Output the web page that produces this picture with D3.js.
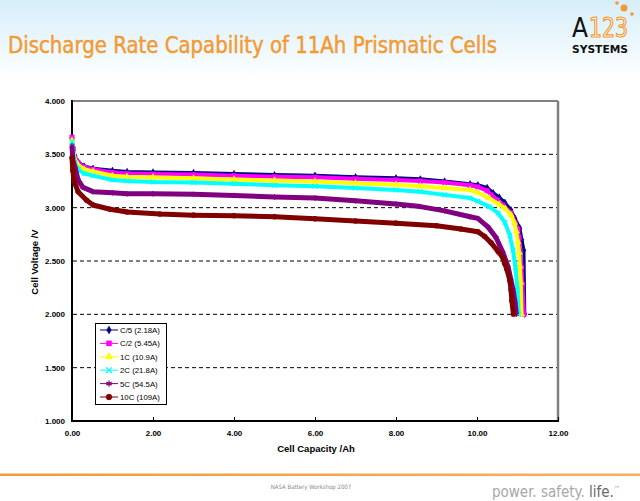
<!DOCTYPE html>
<html><head><meta charset="utf-8">
<script src="https://cdn.jsdelivr.net/npm/d3@7"></script>
<style>body{margin:0;background:#fff;} svg{display:block;}</style>
</head><body>
<svg id="c" width="640" height="501"></svg>
<script>
// ---- data ----
const seriesNames = ["C/5 (2.18A)", "C/2 (5.45A)", "1C (10.9A)", "2C (21.8A)", "5C (54.5A)", "10C (109A)"];
const xTickValues = [0, 2, 4, 6, 8, 10, 12];
const yTickValues = [1.0, 1.5, 2.0, 2.5, 3.0, 3.5, 4.0];
const gridValues = [1.5, 2.0, 2.5, 3.0, 3.5];

const capC5 = [0,0.03,0.07,0.15,0.3,0.52,1.0,1.36,2,3,4,5,6,7,8,8.6,9.2,9.83,10.02,10.25,10.4,10.55,10.69,10.84,10.94,11.06,11.11,11.16,11.18];
const voltC5 = [3.65,3.55,3.48,3.43,3.39,3.37,3.35,3.34,3.335,3.33,3.32,3.31,3.305,3.29,3.28,3.27,3.25,3.225,3.215,3.19,3.14,3.10,3.05,2.98,2.90,2.81,2.70,2.60,2.00];

const capC2 = [0,0.03,0.07,0.15,0.3,0.52,1.0,1.36,2,3,4,5,6,7,8,8.6,9.2,9.83,10.02,10.25,10.35,10.5,10.64,10.84,10.94,11.01,11.04,11.06,11.1,11.12,11.16];
const voltC2 = [3.66,3.55,3.47,3.42,3.38,3.36,3.33,3.32,3.315,3.31,3.30,3.29,3.285,3.27,3.26,3.25,3.235,3.21,3.195,3.16,3.12,3.07,3.025,2.95,2.86,2.80,2.72,2.60,2.44,2.28,2.00];

const cap1C = [0,0.03,0.07,0.15,0.3,0.52,1.0,1.36,2,3,4,5,6,7,8,8.6,9.2,9.83,10.02,10.3,10.55,10.7,10.84,10.92,10.97,11.01,11.04,11.06,11.08,11.1];
const volt1C = [3.63,3.52,3.45,3.40,3.36,3.34,3.30,3.29,3.285,3.275,3.265,3.255,3.245,3.23,3.215,3.20,3.185,3.165,3.14,3.09,3.03,2.99,2.93,2.86,2.78,2.68,2.58,2.45,2.30,2.00];

const cap2C = [0,0.03,0.07,0.15,0.3,0.52,1.0,1.36,2,3,4,5,6,7,8,8.6,9.2,9.83,10.02,10.3,10.52,10.69,10.81,10.89,10.95,11.0,11.03];
const volt2C = [3.62,3.50,3.42,3.36,3.32,3.30,3.26,3.25,3.24,3.235,3.225,3.21,3.20,3.185,3.165,3.15,3.12,3.09,3.06,3.01,2.95,2.86,2.74,2.60,2.44,2.23,2.00];

const cap5C = [0,0.02,0.08,0.15,0.27,0.52,1.0,1.36,2,3,4,5,6,7,8,8.6,9.2,9.83,10.02,10.27,10.47,10.64,10.77,10.84,10.89,10.94,10.97];
const volt5C = [3.58,3.45,3.37,3.26,3.19,3.15,3.14,3.13,3.13,3.125,3.115,3.10,3.09,3.065,3.035,3.01,2.97,2.915,2.90,2.82,2.72,2.58,2.44,2.32,2.23,2.11,2.00];

const cap10C = [0,0.02,0.05,0.15,0.36,0.52,0.94,1.36,2.17,3,4,5,6,7,8,9,9.6,10.02,10.19,10.35,10.52,10.64,10.68,10.74,10.81,10.84,10.86,10.9];
const volt10C = [3.47,3.35,3.25,3.15,3.07,3.025,2.985,2.96,2.94,2.93,2.925,2.915,2.895,2.875,2.855,2.83,2.80,2.775,2.73,2.67,2.59,2.53,2.48,2.42,2.32,2.23,2.13,2.00];

const seriesCaps = [capC5, capC2, cap1C, cap2C, cap5C, cap10C];
const seriesVolts = [voltC5, voltC2, volt1C, volt2C, volt5C, volt10C];

// ---- styles ----
const colors = ["#000080", "#FF00FF", "#FFFF00", "#00FFFF", "#800080", "#800000"];
const symbols = [d3.symbolDiamond, d3.symbolSquare, d3.symbolTriangle, d3.symbolTimes, d3.symbolAsterisk, d3.symbolCircle];
const symSizes = [12, 20, 18, 16, 20, 20];
const bandWidths = [3, 4, 4, 4, 5, 5];
const stroked = [false, false, false, true, true, false];

const svg = d3.select("#c");
const defs = svg.append("defs");
const bg = defs.append("linearGradient").attr("id", "bg").attr("x1", 0).attr("y1", 0).attr("x2", 0).attr("y2", 1);
bg.append("stop").attr("offset", "0%").attr("stop-color", "#d6eef9");
bg.append("stop").attr("offset", "100%").attr("stop-color", "#ffffff");
const og = defs.append("linearGradient").attr("id", "og").attr("x1", 0).attr("y1", 0).attr("x2", 1).attr("y2", 0);
og.append("stop").attr("offset", "0%").attr("stop-color", "#f39a3a");
og.append("stop").attr("offset", "100%").attr("stop-color", "#f7b060");

svg.append("rect").attr("width", 640).attr("height", 501).attr("fill", "#fff");
svg.append("rect").attr("width", 640).attr("height", 80).attr("fill", "url(#bg)");

// title
svg.append("text").attr("x", 8).attr("y", 53)
  .attr("font-family", "'DejaVu Sans Condensed','Liberation Sans Narrow','DejaVu Sans',sans-serif")
  .attr("font-size", 23).attr("fill", "#f39a33").attr("stroke", "#f39a33").attr("stroke-width", 0.45)
  .attr("textLength", 489).attr("lengthAdjust", "spacingAndGlyphs")
  .text("Discharge Rate Capability of 11Ah Prismatic Cells");

// logo
const logo = svg.append("g");
logo.append("text").attr("x", 572).attr("y", 37)
  .attr("font-family", "'DejaVu Sans Condensed','DejaVu Sans',sans-serif").attr("font-size", 26)
  .attr("fill", "#111").text("A");
logo.append("text").attr("x", 589).attr("y", 37)
  .attr("font-family", "'DejaVu Sans Condensed','DejaVu Sans',sans-serif").attr("font-size", 26)
  .attr("fill", "#fff").attr("stroke", "#f39a33").attr("stroke-width", 1.2)
  .attr("textLength", 39).attr("lengthAdjust", "spacingAndGlyphs").text("123");
logo.append("text").attr("x", 572).attr("y", 53)
  .attr("font-family", "'DejaVu Sans Condensed','DejaVu Sans',sans-serif").attr("font-size", 10.5).attr("font-weight", "bold")
  .attr("fill", "#111").attr("textLength", 56).attr("lengthAdjust", "spacingAndGlyphs").text("SYSTEMS");
logo.append("circle").attr("cx", 624).attr("cy", 8).attr("r", 3.5).attr("fill", "#f39a33");
logo.append("circle").attr("cx", 617).attr("cy", 3).attr("r", 1.8).attr("fill", "#f39a33");
logo.append("circle").attr("cx", 632).attr("cy", 14).attr("r", 1.8).attr("fill", "#f39a33");

// footer
svg.append("rect").attr("x", 0).attr("y", 473.5).attr("width", 640).attr("height", 2.5).attr("fill", "url(#og)");
svg.append("text").attr("x", 311).attr("y", 489).attr("text-anchor", "middle")
  .attr("font-family", "'DejaVu Sans Condensed','DejaVu Sans',sans-serif").attr("font-size", 6)
  .attr("fill", "#8a8a8a").text("NASA Battery Workshop 2007");
const ft = svg.append("text").attr("x", 492).attr("y", 497)
  .attr("font-family", "'DejaVu Sans Condensed','DejaVu Sans',sans-serif").attr("font-size", 15)
  .attr("fill", "#a8a8a8");
ft.append("tspan").text("power. safety. ");
ft.append("tspan").attr("fill", "#6a6a6a").text("life.");
ft.append("tspan").attr("font-size", 7).attr("dy", -6).text("™");

// ---- chart ----
const x = d3.scaleLinear().domain([0, 12]).range([72, 558]);
const y = d3.scaleLinear().domain([1, 4]).range([421, 101]);

// grid
svg.append("g").selectAll("line").data(gridValues).join("line")
  .attr("x1", x(0) + 1).attr("x2", x(12) - 1)
  .attr("y1", d => y(d)).attr("y2", d => y(d))
  .attr("stroke", "#000").attr("stroke-width", 1).attr("stroke-dasharray", "4,3");

// frame (top/right gray)
svg.append("line").attr("x1", x(0)).attr("x2", x(12)).attr("y1", y(4)).attr("y2", y(4)).attr("stroke", "#808080").attr("stroke-width", 2);
svg.append("line").attr("x1", x(12)).attr("x2", x(12)).attr("y1", y(4)).attr("y2", y(1)).attr("stroke", "#808080").attr("stroke-width", 2.5);

// axes
const xAxis = d3.axisBottom(x).tickValues(xTickValues).tickFormat(d3.format(".2f")).tickSize(-4).tickPadding(9);
const gx = svg.append("g").attr("transform", `translate(0,${y(1)})`).call(xAxis);
gx.select(".domain").remove();
gx.selectAll(".tick line").attr("stroke", "#000");
gx.selectAll("text").attr("font-family", "'Liberation Sans',Arial,sans-serif").attr("font-size", 8).attr("font-weight", "bold").attr("fill", "#000");

const yAxis = d3.axisLeft(y).tickValues(yTickValues).tickFormat(d3.format(".3f")).tickSize(0).tickPadding(7);
const gy = svg.append("g").attr("transform", `translate(${x(0)},0)`).call(yAxis);
gy.select(".domain").remove();
gy.selectAll("text").attr("font-family", "'Liberation Sans',Arial,sans-serif").attr("font-size", 8).attr("font-weight", "bold").attr("fill", "#000");

svg.append("line").attr("x1", x(0)).attr("x2", x(12) + 1).attr("y1", y(1)).attr("y2", y(1)).attr("stroke", "#000").attr("stroke-width", 2);
svg.append("line").attr("x1", x(0)).attr("x2", x(0)).attr("y1", y(4) - 1).attr("y2", y(1) + 1).attr("stroke", "#000").attr("stroke-width", 2);

// axis titles
svg.append("text").attr("x", 316).attr("y", 452).attr("text-anchor", "middle")
  .attr("font-family", "'Liberation Sans',Arial,sans-serif").attr("font-size", 9.5).attr("font-weight", "bold")
  .text("Cell Capacity /Ah");
svg.append("text").attr("transform", "translate(38,262) rotate(-90)").attr("text-anchor", "middle")
  .attr("font-family", "'Liberation Sans',Arial,sans-serif").attr("font-size", 9.5).attr("font-weight", "bold")
  .text("Cell Voltage /V");

// series
const line = d3.line().x(d => x(d[0])).y(d => y(d[1]));
seriesNames.forEach((name, i) => {
  const pts = seriesCaps[i].map((c, k) => [c, seriesVolts[i][k]]);
  const g = svg.append("g");
  g.append("path").datum(pts).attr("d", line).attr("fill", "none")
    .attr("stroke", colors[i]).attr("stroke-width", bandWidths[i]).attr("stroke-linejoin", "round");
  g.append("path").datum(pts).attr("d", line).attr("fill", "none")
    .attr("stroke", colors[i]).attr("stroke-width", 1);
  const sym = d3.symbol().type(symbols[i]).size(symSizes[i]);
  g.selectAll("path.m").data(pts).join("path").attr("class", "m")
    .attr("transform", d => `translate(${x(d[0])},${y(d[1])})`)
    .attr("d", sym)
    .attr("fill", stroked[i] ? "none" : colors[i])
    .attr("stroke", colors[i]).attr("stroke-width", stroked[i] ? 1.2 : 0.5);
});

// legend
const lg = svg.append("g");
lg.append("rect").attr("x", 95.5).attr("y", 323.5).attr("width", 71).attr("height", 81)
  .attr("fill", "#fff").attr("stroke", "#000").attr("stroke-width", 1);
seriesNames.forEach((name, i) => {
  const ly = 330 + i * 13.4;
  lg.append("line").attr("x1", 100).attr("x2", 118).attr("y1", ly).attr("y2", ly).attr("stroke", colors[i]).attr("stroke-width", 1);
  lg.append("path").attr("transform", `translate(109,${ly})`).attr("d", d3.symbol().type(symbols[i]).size(symSizes[i] + 6))
    .attr("fill", stroked[i] ? "none" : colors[i]).attr("stroke", colors[i]).attr("stroke-width", stroked[i] ? 1.2 : 0.5);
  lg.append("text").attr("x", 120).attr("y", ly + 3)
    .attr("font-family", "'Liberation Sans',Arial,sans-serif").attr("font-size", 7.8).attr("fill", "#000")
    .text(name);
});
</script>
</body></html>
